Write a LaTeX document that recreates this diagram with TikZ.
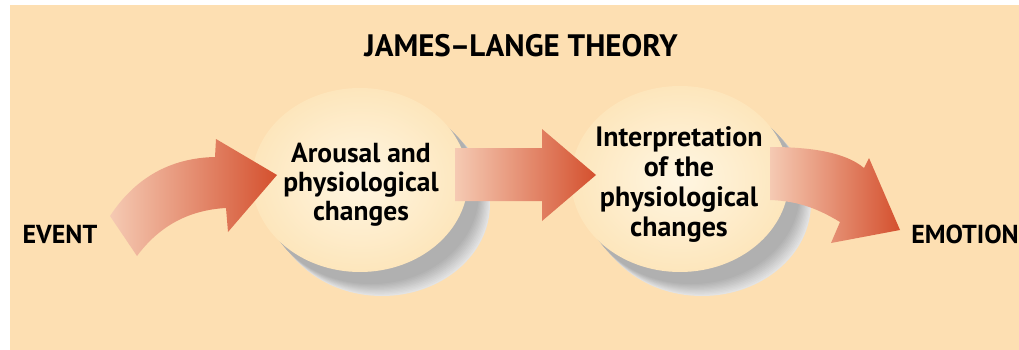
\documentclass[tikz,border=0pt]{standalone}
\usepackage{fontspec}
\setmainfont{PT Sans}
\usetikzlibrary{shapes.geometric}
\definecolor{bg}{HTML}{FDDFB2}
\definecolor{creamIn}{HTML}{FFF6E2}
\definecolor{creamOut}{HTML}{FDE6BC}
\definecolor{arL}{HTML}{F5CAB3}
\definecolor{arM}{HTML}{E8906C}
\definecolor{arR}{HTML}{D4502E}
\tikzset{
  bubble/.style={ellipse, minimum width=216pt, minimum height=184pt, inner sep=0pt,
    shading=radial, inner color=creamIn, outer color=creamOut},
  bubtext/.style={align=center, font=\fontsize{28}{30}\selectfont\bfseries, text=black},
  lbl/.style={font=\fontsize{26}{28}\selectfont\bfseries, text=black},
  arrowshade/.style={left color=arL, middle color=arM, right color=arR}
}
\begin{document}
\begin{tikzpicture}[x=1pt,y=-1pt]
\useasboundingbox (0,0) rectangle (1019,350);
\fill[white] (0,0) rectangle (1019,350);
\fill[bg] (10,5) rectangle (1019,350);

% shadows
\foreach \k in {0,...,10}{
  \pgfmathsetmacro{\dx}{22-1.1*\k}
  \pgfmathsetmacro{\dy}{24-1.2*\k}
  \pgfmathsetmacro{\g}{11+2*\k}
  \fill[black!\g] (360+\dx,180+\dy) ellipse [x radius=108, y radius=92];
  \fill[black!\g] (680+\dx,179+\dy) ellipse [x radius=109, y radius=93];
}

% bubbles
\node[bubble] (c1) at (360,180) {};
\node[bubble, minimum width=218pt, minimum height=186pt] (c2) at (680,179) {};

% arrow 1 (curved up)
\shade[arrowshade] (110,216) .. controls (135,178) and (170,158) .. (215,157)
  -- (216,139) -- (277,175) -- (228,232) -- (226,208)
  .. controls (190,210) and (160,225) .. (137,256) -- cycle;

% arrow 2 (straight)
\shade[arrowshade] (455,148) -- (542,148) -- (542,129) -- (596,175) -- (542,221)
  -- (542,201) -- (455,201) -- cycle;

% arrow 3 (curved down)
\shade[arrowshade] (770,147) .. controls (810,147) and (845,152) .. (864,168)
  -- (869,158) -- (900,230) -- (831,243) -- (840,222)
  .. controls (820,210) and (800,201) .. (770,200) -- cycle;

% texts
\node[font=\fontsize{31}{34}\selectfont\bfseries] (title) at (521,46) {JAMES\kern-1pt–\kern-1ptLANGE THEORY};
\node[bubtext, font=\fontsize{27.5}{29}\selectfont\bfseries] (t1) at (361,185) {Arousal and\\physiological\\changes};
\node[bubtext] (t2) at (679,185) {Interpretation\\of the\\physiological\\changes};
\node[lbl] (event) at (60,234) {EVENT};
\node[lbl] (emotion) at (965,234) {EMOTION};
\end{tikzpicture}
\end{document}
